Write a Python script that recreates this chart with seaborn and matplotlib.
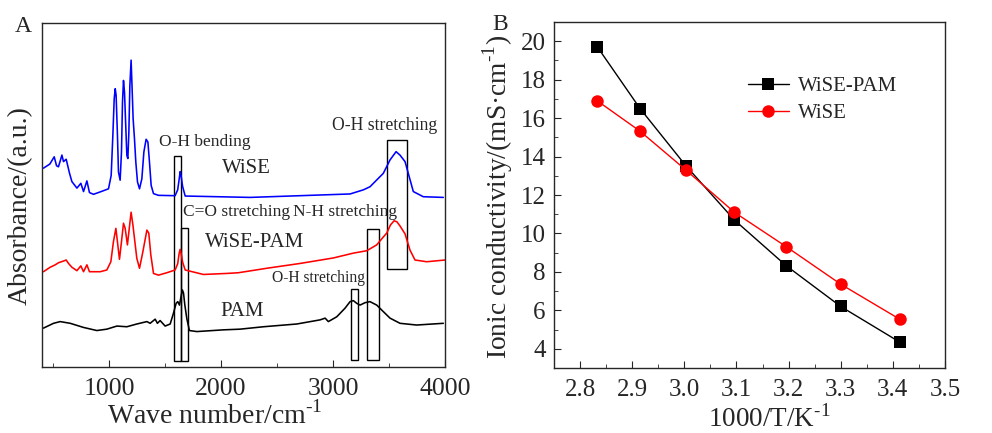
import matplotlib
matplotlib.use("Agg")
import matplotlib.pyplot as plt
from matplotlib.patches import Rectangle
from matplotlib.ticker import MultipleLocator
import pandas as pd
import seaborn as sns

# ---- panel A : FTIR spectra (arbitrary units) ----
wn_wise = [413, 470, 509, 530, 547, 578, 592, 616, 646, 667, 712, 747, 771, 801, 824, 860,
           920, 994, 1018, 1033, 1045, 1054, 1062, 1074, 1083, 1098, 1110, 1119, 1128, 1137,
           1149, 1158, 1167, 1176, 1185, 1196, 1205, 1214, 1226, 1238, 1253, 1271, 1292,
           1310, 1330, 1346, 1360, 1375, 1396, 1440, 1589, 1612, 1625, 1634, 1643, 1656,
           1679, 2259, 3152, 3271, 3330, 3449, 3509, 3563, 3598, 3643, 3672, 3717, 3806, 3985]
abs_wise = [5.78, 5.90, 6.11, 5.85, 5.82, 6.16, 5.97, 6.04, 5.63, 5.39, 5.20, 5.34, 5.10,
            5.41, 5.07, 5.02, 5.09, 5.18, 5.57, 6.74, 7.80, 8.09, 7.90, 6.74, 5.67, 5.43,
            6.25, 7.70, 8.33, 7.99, 6.93, 6.15, 6.06, 6.83, 8.19, 8.92, 8.09, 7.22, 6.64,
            5.96, 5.38, 5.18, 5.47, 6.25, 6.62, 6.54, 5.96, 5.28, 5.04, 4.99, 4.98, 5.15,
            5.45, 5.68, 5.55, 5.25, 4.97, 4.93, 5.03, 5.15, 5.24, 5.63, 6.02, 6.26, 6.16,
            5.97, 5.63, 5.10, 4.95, 4.93]

wn_wisepam = [413, 473, 518, 547, 592, 616, 637, 667, 712, 747, 771, 801, 824, 890, 920, 979,
              1015, 1038, 1060, 1074, 1092, 1110, 1128, 1143, 1163, 1196, 1212, 1226, 1247,
              1271, 1301, 1337, 1354, 1372, 1396, 1440, 1515, 1589, 1612, 1625, 1634, 1643,
              1656, 1679, 1842, 2051, 2154, 2408, 2705, 3003, 3181, 3301, 3390, 3449, 3479,
              3513, 3545, 3571, 3598, 3643, 3687, 3732, 3837, 4000]
abs_wisepam = [2.77, 2.90, 2.97, 3.03, 3.08, 3.11, 3.01, 2.90, 2.80, 2.94, 2.77, 2.97, 2.77,
               2.77, 2.77, 2.82, 3.06, 3.64, 4.03, 3.64, 3.13, 3.64, 4.18, 4.03, 3.55, 4.50,
               4.13, 3.74, 3.16, 2.87, 3.35, 3.98, 3.89, 3.26, 2.72, 2.67, 2.74, 2.82, 3.00,
               3.30, 3.42, 3.30, 3.05, 2.82, 2.69, 2.72, 2.74, 2.87, 3.01, 3.17, 3.31, 3.38,
               3.55, 3.78, 3.89, 4.13, 4.25, 4.22, 4.10, 3.87, 3.40, 3.11, 3.06, 3.11]

wn_pam = [413, 503, 562, 652, 771, 890, 979, 1069, 1158, 1247, 1337, 1366, 1411, 1431, 1455,
          1500, 1545, 1574, 1598, 1613, 1628, 1642, 1654, 1664, 1676, 1694, 1717, 1783, 2021,
          2170, 2378, 2676, 2884, 2929, 2958, 3033, 3107, 3152, 3181, 3212, 3241, 3286, 3330,
          3390, 3449, 3509, 3598, 3747, 3985]
abs_pam = [1.13, 1.27, 1.32, 1.27, 1.15, 1.06, 1.10, 1.19, 1.17, 1.25, 1.32, 1.27, 1.39, 1.27,
           1.35, 1.19, 1.25, 1.56, 1.85, 1.90, 1.80, 2.05, 2.24, 2.15, 1.80, 1.40, 1.06, 1.03,
           1.08, 1.10, 1.17, 1.25, 1.37, 1.42, 1.32, 1.46, 1.71, 1.90, 1.93, 1.85, 1.80, 1.87,
           1.90, 1.80, 1.61, 1.42, 1.27, 1.22, 1.27]

# marked bands (wavenumber range, vertical extent)
band_lo = [1583, 1643, 3158, 3301, 3485]
band_hi = [1643, 1703, 3226, 3411, 3663]
band_bottom = [0.18, 0.18, 0.20, 0.20, 2.84]
band_top = [6.13, 4.05, 2.26, 4.02, 6.60]

# ---- panel B : ionic conductivity ----
inv_t = [2.833, 2.915, 3.003, 3.096, 3.195, 3.300, 3.413]
sigma_wisepam = [19.71, 16.50, 13.52, 10.70, 8.33, 6.20, 4.35]
sigma_wise = [16.90, 15.32, 13.30, 11.10, 9.32, 7.36, 5.54]

sns.set_style("ticks")
plt.rcParams["font.family"] = ["Liberation Serif", "DejaVu Serif"]
plt.rcParams["mathtext.fontset"] = "custom"
plt.rcParams["mathtext.rm"] = "Liberation Serif"
plt.rcParams["axes.linewidth"] = 1.0

fig = plt.figure(figsize=(9.92, 4.33), dpi=100)
axA = fig.add_axes([42 / 992, 66 / 433, 403 / 992, 344 / 433])
axB = fig.add_axes([554 / 992, 65 / 433, 391 / 992, 346 / 433])

spec = pd.concat([
    pd.DataFrame({"wn": wn_wise, "a": abs_wise, "s": "WiSE"}),
    pd.DataFrame({"wn": wn_wisepam, "a": abs_wisepam, "s": "WiSE-PAM"}),
    pd.DataFrame({"wn": wn_pam, "a": abs_pam, "s": "PAM"}),
])
sns.lineplot(data=spec, x="wn", y="a", hue="s", estimator=None, sort=False,
             palette={"WiSE": "#0000ff", "WiSE-PAM": "#ff0000", "PAM": "#000000"},
             linewidth=1.15, legend=False, ax=axA)

for lo, hi, b, t in zip(band_lo, band_hi, band_bottom, band_top):
    axA.add_patch(Rectangle((lo, b), hi - lo, t - b, fill=False, edgecolor="black", linewidth=1.0))

axA.text(1446, 6.54, "O-H bending", fontsize=12.5, va="center")
axA.text(2009, 5.76, "WiSE", fontsize=15, va="center")
axA.text(1661, 4.51, "C=O stretching", fontsize=12.5, va="center")
axA.text(2643, 4.51, "N-H stretching", fontsize=12.5, va="center")
axA.text(1857, 3.63, "WiSE-PAM", fontsize=15, va="center")
axA.text(2455, 2.59, "O-H stretching", fontsize=11.2, va="center")
axA.text(1991, 1.60, "PAM", fontsize=15, va="center")
axA.text(2991, 7.01, "O-H stretching", fontsize=12.7, va="center")

axA.set_xlim(400, 4000)
axA.set_ylim(0, 10)
axA.set_yticks([])
axA.xaxis.set_major_locator(MultipleLocator(1000))
axA.xaxis.set_minor_locator(MultipleLocator(500))
axA.tick_params(axis="x", which="both", direction="in", labelsize=18.5, pad=8)
axA.tick_params(axis="x", which="major", length=5)
axA.tick_params(axis="x", which="minor", length=3)
axA.set_xlabel(r"Wave number/cm$^{\text{-1}}$", fontsize=20)
axA.set_ylabel("Absorbance/(a.u.)", fontsize=20)
axA.xaxis.set_label_coords(0.428, -0.10)
axA.yaxis.set_label_coords(-0.022, 0.468)

cond = pd.concat([
    pd.DataFrame({"x": inv_t, "y": sigma_wisepam, "s": "WiSE-PAM"}),
    pd.DataFrame({"x": inv_t, "y": sigma_wise, "s": "WiSE"}),
])
sns.lineplot(data=cond, x="x", y="y", hue="s", style="s", markers={"WiSE-PAM": "s", "WiSE": "o"},
             dashes=False, palette={"WiSE-PAM": "#000000", "WiSE": "#ff0000"},
             markersize=9, markeredgewidth=0, linewidth=1.0, ax=axB)
axB.legend(frameon=False, fontsize=15, loc="upper left", bbox_to_anchor=(0.447, 0.897),
           handlelength=2.0, handletextpad=0.4, labelspacing=0.35)

axB.set_xlim(2.75, 3.5)
axB.set_ylim(3, 21)
axB.xaxis.set_minor_locator(MultipleLocator(0.05))
axB.yaxis.set_minor_locator(MultipleLocator(1))
axB.set_xticks([2.8, 2.9, 3.0, 3.1, 3.2, 3.3, 3.4, 3.5])
axB.set_xticklabels(["2.8", "2.9", "3.0", "3.1", "3.2", "3.3", "3.4", "3.5"])
axB.set_yticks([4, 6, 8, 10, 12, 14, 16, 18, 20])
axB.tick_params(which="both", direction="in", labelsize=18)
axB.tick_params(which="major", length=5)
axB.tick_params(which="minor", length=3)
axB.tick_params(axis="x", pad=8)
axB.tick_params(axis="y", pad=6)
axB.set_xlabel(r"1000/T/K$^{\text{-1}}$", fontsize=19.5)
axB.set_ylabel(r"Ionic conductivity/(mS·cm$^{\text{-1}}$)", fontsize=19.8)
axB.xaxis.set_label_coords(0.55, -0.107)
axB.yaxis.set_label_coords(-0.10, 0.494)

fig.text(15 / 992, 1 - 26 / 433, "A", fontsize=17, va="center")
fig.text(492 / 992, 1 - 25 / 433, "B", fontsize=17, va="center")

fig.savefig("out.png", dpi=100)
